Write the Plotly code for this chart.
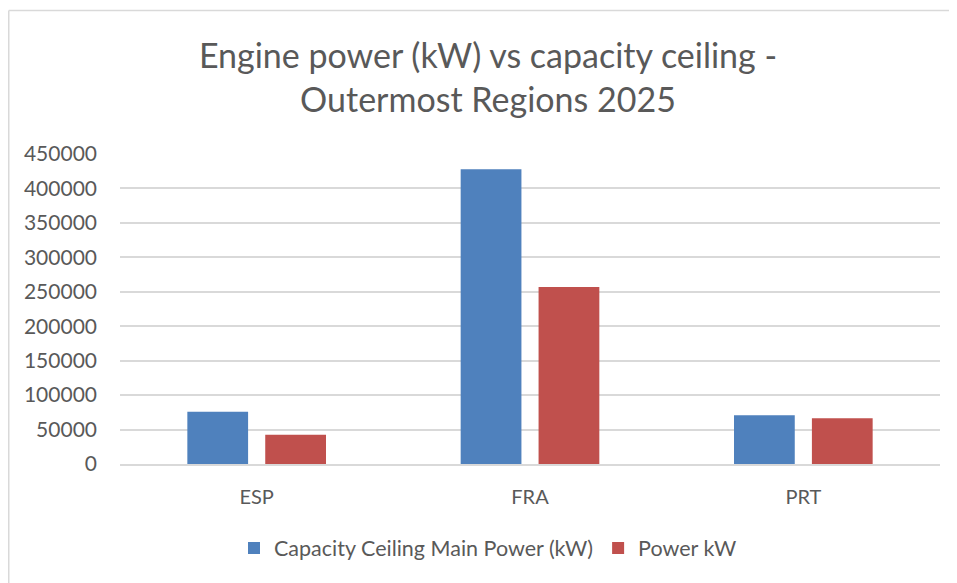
import plotly.graph_objects as go

categories = ["ESP", "FRA", "PRT"]
capacity_ceiling = [75900, 427800, 70700]
power_kw = [42500, 256900, 66300]
series_names = ["Capacity Ceiling Main Power (kW)", "Power kW"]
y_ticks = [0, 50000, 100000, 150000, 200000, 250000, 300000, 350000, 400000, 450000]

# page body has an 8px margin, so work in figure coordinates = page - 8
OFF = 8
W, H = 957 - OFF, 583 - OFF
L, R, T, B = 120 - OFF, 940 - OFF, 154 - OFF, 464 - OFF

FONT = "Lato"
GREY = "#595959"
BORDER = "#d9d9d9"

fig = go.Figure()
fig.add_trace(go.Bar(x=categories, y=capacity_ceiling, name=series_names[0],
                     marker=dict(color="#4f81bd", line=dict(width=0))))
fig.add_trace(go.Bar(x=categories, y=power_kw, name=series_names[1],
                     marker=dict(color="#c0504d", line=dict(width=0))))

def px_to_paper_x(px):
    return (px - OFF - L) / (R - L)

def px_to_paper_y(py):
    return (B - (py - OFF)) / (B - T)

fig.update_layout(
    width=W, height=H,
    margin=dict(l=L, r=W - R, t=T, b=H - B, pad=0),
    paper_bgcolor="white", plot_bgcolor="white",
    barmode="group", bargap=0.43, bargroupgap=0.22,
    font=dict(family=FONT, color=GREY, size=21),
    title=dict(text="Engine power (kW) vs capacity ceiling -<br>Outermost Regions 2025",
               xref="container", yref="container", x=(488 - OFF) / W, y=1 - (68 - OFF) / H,
               xanchor="center", yanchor="middle",
               font=dict(family=FONT, size=34, color=GREY)),
    showlegend=True,
    legend=dict(orientation="h", x=px_to_paper_x(488), y=px_to_paper_y(548),
                xanchor="center", yanchor="middle",
                font=dict(family=FONT, size=21.5, color=GREY),
                itemwidth=30, tracegroupgap=0),
    xaxis=dict(showgrid=False, showline=True, linecolor=BORDER, linewidth=1.5,
               ticks="", ticklabelstandoff=14, tickfont=dict(size=20, color=GREY)),
    yaxis=dict(range=[0, 450000], tickvals=y_ticks, ticktext=[str(v) for v in y_ticks],
               showgrid=True, gridcolor=BORDER, gridwidth=1.5,
               zeroline=False, showline=False, ticks="", ticklabelstandoff=22,
               tickfont=dict(size=21, color=GREY)),
    shapes=[
        dict(type="line", xref="paper", yref="paper",
             x0=px_to_paper_x(8.75), x1=px_to_paper_x(8.75),
             y0=px_to_paper_y(600), y1=px_to_paper_y(10.5),
             line=dict(color=BORDER, width=1.5), layer="below"),
        dict(type="line", xref="paper", yref="paper",
             x0=px_to_paper_x(8.75), x1=px_to_paper_x(975),
             y0=px_to_paper_y(10.5), y1=px_to_paper_y(10.5),
             line=dict(color=BORDER, width=1.5), layer="below"),
    ],
)

fig.write_html("out.html")
